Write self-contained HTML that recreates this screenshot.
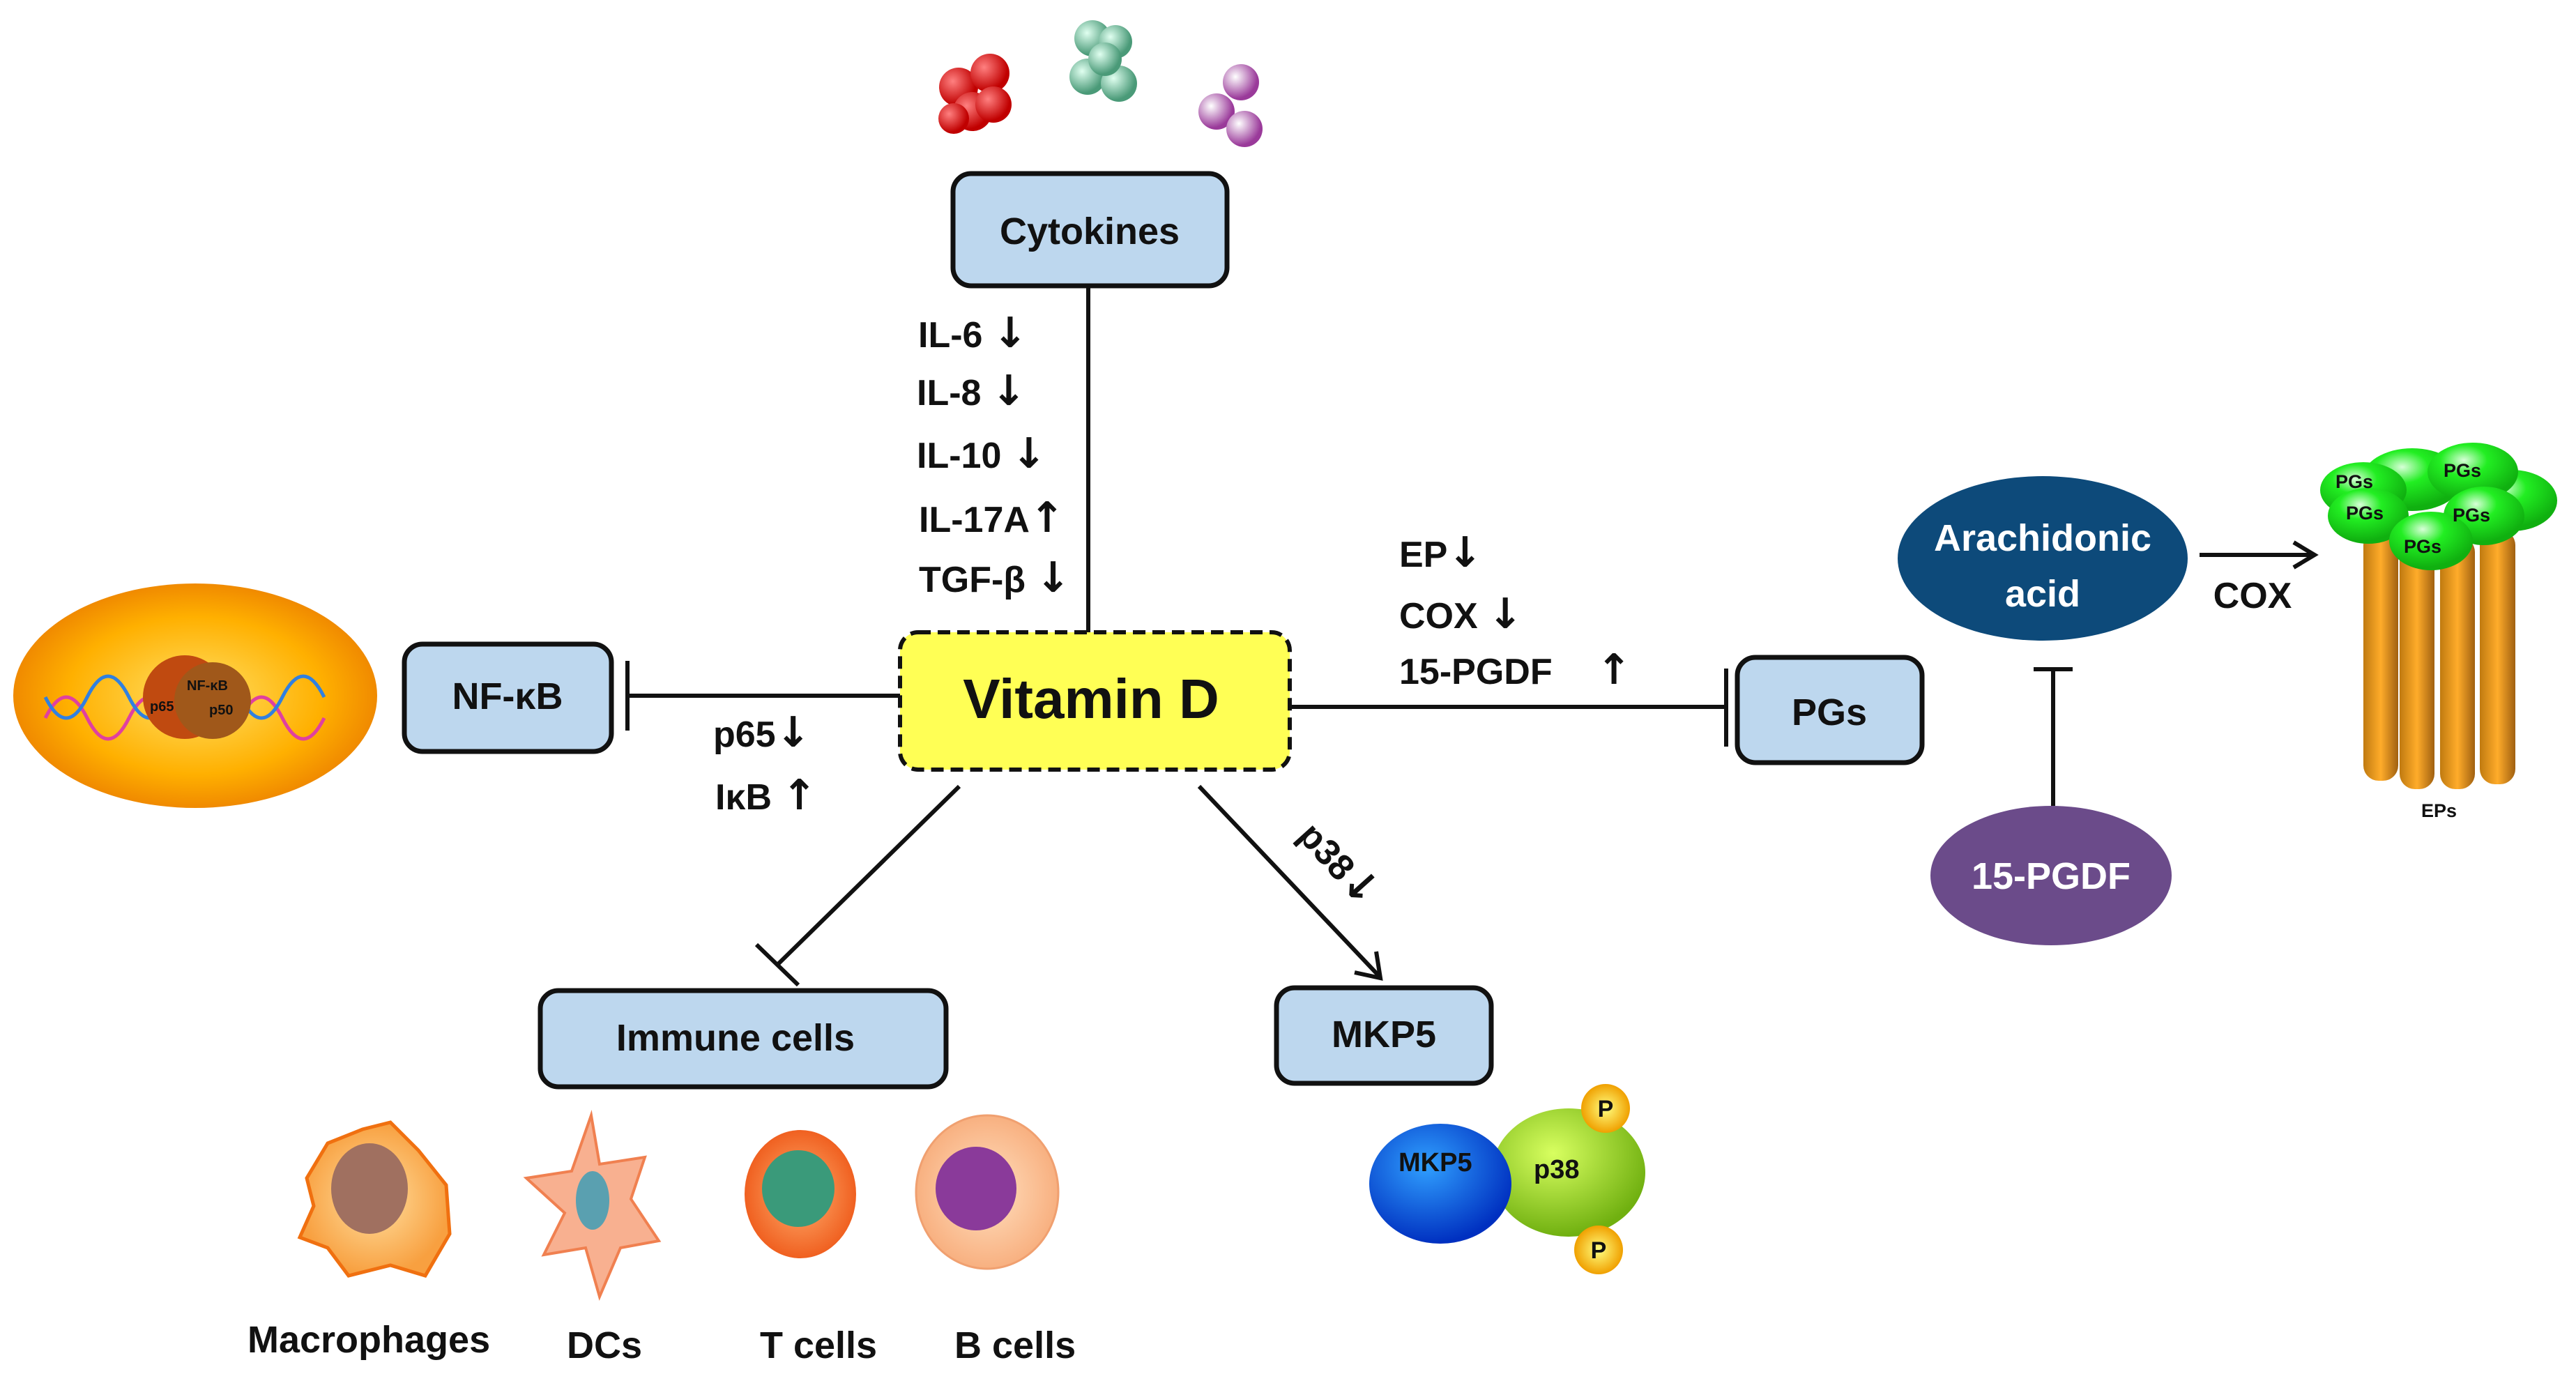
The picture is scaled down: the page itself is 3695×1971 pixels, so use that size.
<!DOCTYPE html>
<html><head><meta charset="utf-8"><style>
html,body{margin:0;padding:0;background:#fff}
svg{display:block}
text{font-family:"Liberation Sans",sans-serif;font-weight:bold;fill:#111}
.lbl{font-size:52px}
.ar{font-family:"DejaVu Sans",sans-serif;font-size:60px;font-weight:bold}
.box{fill:#bdd7ee;stroke:#111;stroke-width:7}
.ln{stroke:#111;stroke-width:6;fill:none}
</style></head><body>
<svg width="3695" height="1971" viewBox="0 0 3695 1971" xmlns="http://www.w3.org/2000/svg">
<defs>
<radialGradient id="nuc" cx="50%" cy="50%" r="50%"><stop offset="0" stop-color="#ffe066"/><stop offset=".7" stop-color="#ffb000"/><stop offset="1" stop-color="#f08a00"/></radialGradient>
<radialGradient id="red" cx="35%" cy="35%" r="60%"><stop offset="0" stop-color="#ff8080"/><stop offset="1" stop-color="#c00000"/></radialGradient>
<radialGradient id="grn" cx="35%" cy="35%" r="60%"><stop offset="0" stop-color="#e0fff0"/><stop offset="1" stop-color="#4a9a78"/></radialGradient>
<radialGradient id="pur" cx="35%" cy="35%" r="60%"><stop offset="0" stop-color="#fff"/><stop offset="1" stop-color="#9a3a9a"/></radialGradient>
<radialGradient id="pg" cx="40%" cy="30%" r="65%"><stop offset="0" stop-color="#d8ffd8"/><stop offset=".4" stop-color="#22ee22"/><stop offset="1" stop-color="#10b010"/></radialGradient>
<linearGradient id="col" x1="0" x2="1"><stop offset="0" stop-color="#c07a10"/><stop offset=".5" stop-color="#ffac2a"/><stop offset="1" stop-color="#a06010"/></linearGradient>
<radialGradient id="mkp" cx="40%" cy="35%" r="65%"><stop offset="0" stop-color="#30a0ff"/><stop offset="1" stop-color="#0030c0"/></radialGradient>
<radialGradient id="p38" cx="40%" cy="35%" r="65%"><stop offset="0" stop-color="#d8ff60"/><stop offset="1" stop-color="#70b010"/></radialGradient>
<radialGradient id="pp" cx="50%" cy="50%" r="50%"><stop offset="0" stop-color="#ffff80"/><stop offset="1" stop-color="#f0a000"/></radialGradient>
<radialGradient id="cellO" cx="50%" cy="50%" r="50%"><stop offset="0" stop-color="#ffe0a0"/><stop offset="1" stop-color="#f8a040"/></radialGradient>
<radialGradient id="cellT" cx="50%" cy="50%" r="50%"><stop offset="0" stop-color="#ffb070"/><stop offset="1" stop-color="#f06020"/></radialGradient>
<radialGradient id="cellB" cx="50%" cy="50%" r="50%"><stop offset="0" stop-color="#ffe0c0"/><stop offset="1" stop-color="#f8b080"/></radialGradient>
</defs>

<g fill="url(#red)"><circle cx="1375" cy="125" r="28"/><circle cx="1420" cy="105" r="28"/><circle cx="1395" cy="160" r="28"/><circle cx="1425" cy="150" r="26"/><circle cx="1368" cy="170" r="22"/></g>
<g fill="url(#grn)"><circle cx="1567" cy="55" r="26"/><circle cx="1600" cy="60" r="24"/><circle cx="1560" cy="110" r="26"/><circle cx="1605" cy="120" r="26"/><circle cx="1585" cy="85" r="24"/></g>
<g fill="url(#pur)"><circle cx="1780" cy="118" r="26"/><circle cx="1745" cy="160" r="26"/><circle cx="1785" cy="185" r="26"/></g>

<line class="ln" x1="1561" y1="410" x2="1561" y2="907"/>
<line class="ln" x1="1291" y1="998" x2="900" y2="998"/>
<line class="ln" x1="900" y1="948" x2="900" y2="1048"/>
<line class="ln" x1="1850" y1="1014" x2="2476" y2="1014"/>
<line class="ln" x1="2476" y1="959" x2="2476" y2="1071"/>
<line class="ln" x1="1376" y1="1128" x2="1115" y2="1384"/>
<line class="ln" x1="1085" y1="1355" x2="1145" y2="1413"/>
<line class="ln" x1="1720" y1="1128" x2="1978" y2="1400"/>
<path class="ln" d="M1943,1395 L1980,1403 L1974,1365" />
<line class="ln" x1="2945" y1="1156" x2="2945" y2="960"/>
<line class="ln" x1="2917" y1="960" x2="2973" y2="960"/>
<line class="ln" x1="3155" y1="796" x2="3318" y2="796"/>
<path class="ln" d="M3290,778 L3320,796 L3290,814"/>

<rect class="box" x="1367" y="249" width="393" height="161" rx="26"/>
<text x="1563" y="350" font-size="54" text-anchor="middle">Cytokines</text>
<rect x="1291" y="907" width="559" height="197" rx="26" fill="#ffff55" stroke="#111" stroke-width="6" stroke-dasharray="18,10"/>
<text x="1565" y="1030" font-size="80" text-anchor="middle">Vitamin D</text>
<rect class="box" x="580" y="924" width="297" height="154" rx="26"/>
<text x="728" y="1017" font-size="54" text-anchor="middle">NF-κB</text>
<rect class="box" x="2492" y="943" width="265" height="151" rx="26"/>
<text x="2624" y="1040" font-size="54" text-anchor="middle">PGs</text>
<rect class="box" x="775" y="1421" width="582" height="138" rx="26"/>
<text x="1055" y="1507" font-size="54" text-anchor="middle">Immune cells</text>
<rect class="box" x="1831" y="1417" width="308" height="137" rx="26"/>
<text x="1985" y="1502" font-size="54" text-anchor="middle">MKP5</text>

<text class="lbl" x="1317" y="498">IL-6 <tspan class="ar">↓</tspan></text>
<text class="lbl" x="1315" y="581">IL-8 <tspan class="ar">↓</tspan></text>
<text class="lbl" x="1315" y="671">IL-10 <tspan class="ar">↓</tspan></text>
<text class="lbl" x="1318" y="763">IL-17A<tspan class="ar">↑</tspan></text>
<text class="lbl" x="1318" y="849">TGF-β <tspan class="ar">↓</tspan></text>
<text class="lbl" x="1023" y="1071">p65<tspan class="ar">↓</tspan></text>
<text class="lbl" x="1026" y="1161">IκB <tspan class="ar">↑</tspan></text>
<text class="lbl" x="2007" y="813">EP<tspan class="ar">↓</tspan></text>
<text class="lbl" x="2007" y="901">COX <tspan class="ar">↓</tspan></text>
<text class="lbl" x="2007" y="981">15-PGDF</text>
<text class="ar" x="2290" y="981">↑</text>
<text class="lbl" x="1860" y="1200" transform="rotate(48 1860 1200)">p38<tspan class="ar">↓</tspan></text>
<text class="lbl" x="3231" y="872" text-anchor="middle">COX</text>

<ellipse cx="280" cy="998" rx="261" ry="161" fill="url(#nuc)"/>
<g fill="none" stroke-width="5">
<path d="M65,1030 q30,-60 60,0 q30,60 60,0 q30,-60 60,0" stroke="#e040a0"/>
<path d="M65,1000 q30,60 60,0 q30,-60 60,0 q30,60 60,0" stroke="#3080e0"/>
<path d="M345,1030 q30,-60 60,0 q30,60 60,0" stroke="#e040a0"/>
<path d="M345,1000 q30,60 60,0 q30,-60 60,0" stroke="#3080e0"/>
</g>
<circle cx="265" cy="1000" r="60" fill="#c04a10"/>
<circle cx="305" cy="1005" r="55" fill="#a0581a"/>
<text x="268" y="990" font-size="20" font-family="Liberation Serif" fill="#300">NF-κB</text>
<text x="215" y="1020" font-size="20" font-family="Liberation Serif" fill="#300">p65</text>
<text x="300" y="1025" font-size="20" font-family="Liberation Serif" fill="#300">p50</text>

<ellipse cx="2930" cy="801" rx="208" ry="118" fill="#0d4a7a"/>
<text x="2930" y="790" font-size="54" text-anchor="middle" style="fill:#fff">Arachidonic</text>
<text x="2930" y="870" font-size="54" text-anchor="middle" style="fill:#fff">acid</text>
<ellipse cx="2942" cy="1256" rx="173" ry="100" fill="#6b4b8a"/>
<text x="2942" y="1275" font-size="54" text-anchor="middle" style="fill:#fff">15-PGDF</text>

<rect x="3390" y="760" width="50" height="360" rx="22" fill="url(#col)"/>
<rect x="3557" y="760" width="51" height="365" rx="22" fill="url(#col)"/>
<rect x="3442" y="770" width="50" height="362" rx="22" fill="url(#col)"/>
<rect x="3500" y="770" width="50" height="362" rx="22" fill="url(#col)"/>
<g fill="url(#pg)">
<ellipse cx="3460" cy="688" rx="72" ry="45"/><ellipse cx="3603" cy="718" rx="65" ry="44"/>
<ellipse cx="3547" cy="677" rx="65" ry="42"/><ellipse cx="3390" cy="703" rx="62" ry="40"/>
<ellipse cx="3397" cy="740" rx="58" ry="40"/><ellipse cx="3563" cy="740" rx="58" ry="42"/>
<ellipse cx="3487" cy="776" rx="60" ry="42"/>
</g>
<g font-size="27" font-weight="normal">
<text x="3350" y="700">PGs</text><text x="3505" y="684">PGs</text><text x="3365" y="745">PGs</text>
<text x="3518" y="748">PGs</text><text x="3448" y="793">PGs</text>
<text x="3473" y="1172">EPs</text>
</g>

<ellipse cx="2250" cy="1682" rx="110" ry="92" fill="url(#p38)"/>
<ellipse cx="2066" cy="1698" rx="102" ry="86" fill="url(#mkp)"/>
<circle cx="2303" cy="1590" r="35" fill="url(#pp)"/>
<circle cx="2293" cy="1793" r="35" fill="url(#pp)"/>
<text x="2303" y="1602" font-size="34" text-anchor="middle">P</text>
<text x="2293" y="1805" font-size="34" text-anchor="middle">P</text>
<text x="2006" y="1680" font-size="38" font-weight="normal">MKP5</text>
<text x="2200" y="1690" font-size="38" font-weight="normal">p38</text>

<path d="M470,1640 L520,1620 L560,1610 L600,1650 L640,1700 L645,1770 L610,1830 L560,1815 L500,1830 L470,1790 L430,1775 L450,1730 L440,1690 Z" fill="url(#cellO)" stroke="#f07010" stroke-width="5"/>
<ellipse cx="530" cy="1705" rx="55" ry="65" fill="#a07060"/>
<path d="M848,1600 L860,1670 L925,1660 L905,1720 L945,1780 L890,1790 L860,1860 L840,1790 L780,1800 L810,1740 L755,1690 L820,1680 Z" fill="#f8b090" stroke="#f08050" stroke-width="4"/>
<ellipse cx="850" cy="1722" rx="24" ry="42" fill="#5aa0b0"/>
<ellipse cx="1148" cy="1713" rx="80" ry="92" fill="url(#cellT)"/>
<ellipse cx="1145" cy="1705" rx="52" ry="55" fill="#3a9a7a"/>
<ellipse cx="1416" cy="1710" rx="102" ry="110" fill="url(#cellB)" stroke="#f0a070" stroke-width="3"/>
<ellipse cx="1400" cy="1705" rx="58" ry="60" fill="#8a3a9a"/>

<g font-size="54">
<text x="355" y="1940">Macrophages</text>
<text x="813" y="1948">DCs</text>
<text x="1090" y="1948">T cells</text>
<text x="1369" y="1948">B cells</text>
</g>
</svg>
</body></html>
